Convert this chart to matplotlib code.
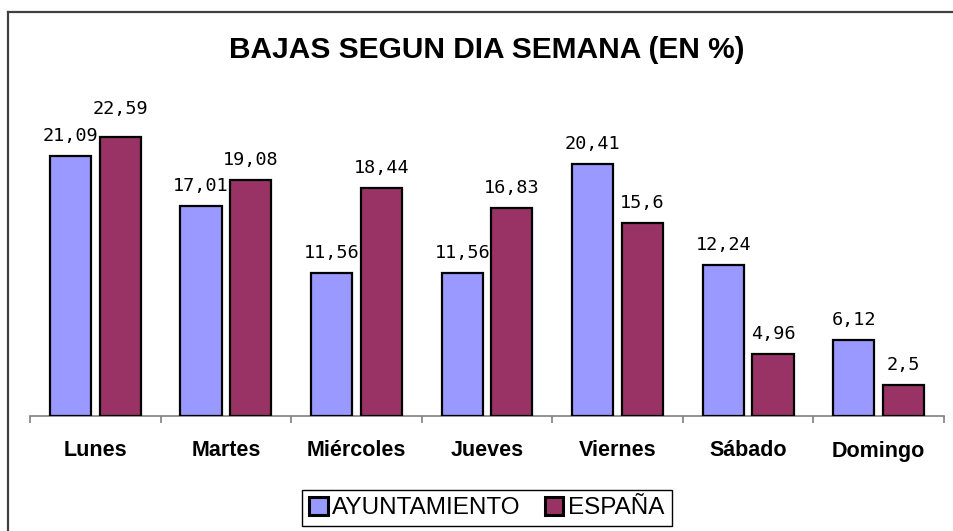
import matplotlib
matplotlib.use("Agg")
import matplotlib.pyplot as plt
from matplotlib.lines import Line2D
import numpy as np

categories = ["Lunes", "Martes", "Miércoles", "Jueves", "Viernes", "Sábado", "Domingo"]
ayuntamiento = [21.09, 17.01, 11.56, 11.56, 20.41, 12.24, 6.12]
espana = [22.59, 19.08, 18.44, 16.83, 15.6, 4.96, 2.5]
ayto_labels = ["21,09", "17,01", "11,56", "11,56", "20,41", "12,24", "6,12"]
esp_labels = ["22,59", "19,08", "18,44", "16,83", "15,6", "4,96", "2,5"]
series_names = ["AYUNTAMIENTO", "ESPAÑA"]
title = "BAJAS SEGUN DIA SEMANA (EN %)"

W, H = 954, 531
fig = plt.figure(figsize=(W / 100, H / 100), dpi=100)
fig.patch.set_facecolor("white")

# outer border (top and left visible)
bx, by = 8.5 / W, 1 - 11.5 / H
fig.add_artist(Line2D([bx, bx], [-0.1, by], transform=fig.transFigure,
                      color="#404040", linewidth=1.6, solid_capstyle="projecting"))
fig.add_artist(Line2D([bx, 1.1], [by, by], transform=fig.transFigure,
                      color="#404040", linewidth=1.6, solid_capstyle="projecting"))

ax_bottom_px = 415.5
ax_h_px = 308
ax = fig.add_axes([30 / W, (H - ax_bottom_px) / H, (944 - 30) / W, ax_h_px / H])

x = np.arange(len(categories))
bw = 0.315
off = 0.19
c1, c2 = "#9999FF", "#993366"
b1 = ax.bar(x - off, ayuntamiento, bw, color=c1, edgecolor="black", linewidth=1.6,
            label=series_names[0], zorder=3)
b2 = ax.bar(x + off, espana, bw, color=c2, edgecolor="black", linewidth=1.6,
            label=series_names[1], zorder=3)

ax.set_xlim(-0.5, len(categories) - 0.5)
ax.set_ylim(0, 25)

mono = "DejaVu Sans Mono"
for xi, v, t in zip(x - off, ayuntamiento, ayto_labels):
    ax.annotate(t, (xi, v), xytext=(0, 10.8), textcoords="offset points",
                ha="center", va="baseline", fontsize=13.3, family=mono,
                annotation_clip=False)
for i, (xi, v, t) in enumerate(zip(x + off, espana, esp_labels)):
    dy = 17 if i == 0 else 10.8
    ax.annotate(t, (xi, v), xytext=(0, dy), textcoords="offset points",
                ha="center", va="baseline", fontsize=13.3, family=mono,
                annotation_clip=False)

for s in ["top", "right", "left"]:
    ax.spines[s].set_visible(False)
ax.spines["bottom"].set_color("#808080")
ax.spines["bottom"].set_linewidth(1.2)
ax.set_yticks([])
ax.set_xticks(x)
ax.set_xticklabels(categories, fontsize=15.5, fontweight="bold", family="Liberation Sans")
ax.tick_params(axis="x", which="major", length=0, pad=18)
ax.set_xticks(np.arange(-0.5, len(categories), 1.0), minor=True)
ax.tick_params(axis="x", which="minor", length=5, width=1.2, color="#808080", direction="out")

fig.text(487 / W, 1 - 50 / H, title, ha="center", va="center", fontsize=21.5,
         fontweight="bold", family="Liberation Sans")

leg = fig.legend(handles=[b1, b2], labels=series_names, loc="center",
                 bbox_to_anchor=(487 / W, 1 - 508 / H), ncol=2, frameon=True,
                 fancybox=False, edgecolor="black", framealpha=1,
                 prop={"family": "Liberation Sans", "size": 17.5},
                 handlelength=0.75, handleheight=0.75, handletextpad=0.2,
                 columnspacing=1.0, borderpad=0.3, borderaxespad=0)
leg.get_frame().set_linewidth(1.0)
for h in leg.legend_handles:
    h.set_linewidth(2.2)

fig.savefig("out.png", dpi=100, facecolor="white")
